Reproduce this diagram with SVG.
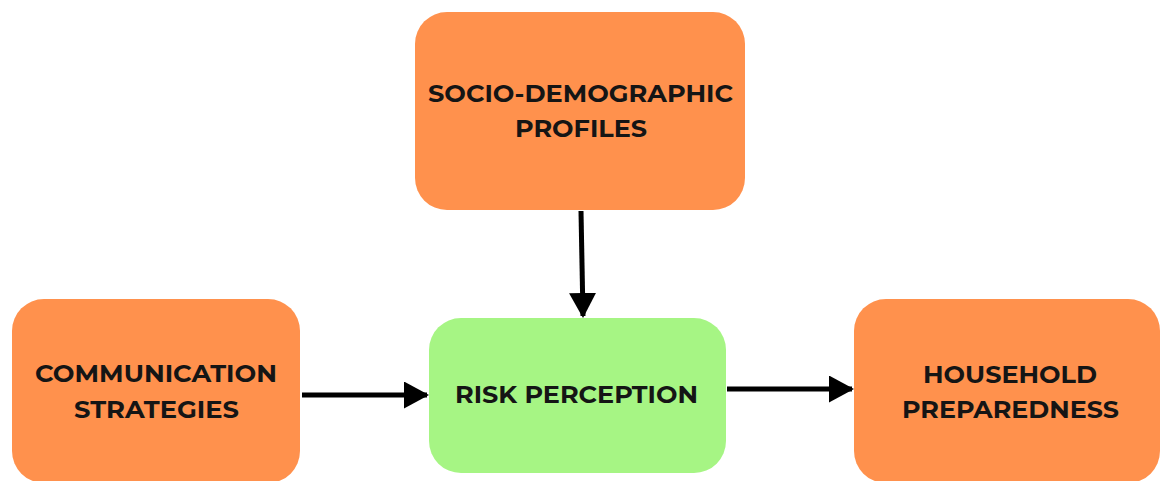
<svg xmlns="http://www.w3.org/2000/svg" width="1160" height="481" viewBox="0 0 1160 481">
<style>
.orange{fill:#FF914D}
.green{fill:#A6F584}
.lbl{font-family:"Montserrat","Inter","Liberation Sans",sans-serif;font-weight:700;font-size:23px;fill:#151515;text-anchor:middle}
.conn{stroke:#000;stroke-width:5;fill:none}
</style>
<defs>
<marker id="ah" markerWidth="5" markerHeight="5.4" refX="4.6" refY="2.7" orient="auto" markerUnits="strokeWidth">
<path d="M0,0 L5,2.7 L0,5.4 Z" fill="#000"/>
</marker>
</defs>
<rect width="1160" height="481" fill="#fff"/>
<g id="node-socio">
<rect class="orange" x="415" y="12" width="330" height="198" rx="32"/>
<text class="lbl" x="580.5" y="102" textLength="305" lengthAdjust="spacingAndGlyphs">SOCIO-DEMOGRAPHIC</text>
<text class="lbl" x="581" y="137" textLength="132" lengthAdjust="spacingAndGlyphs">PROFILES</text>
</g>
<g id="node-comm">
<rect class="orange" x="12" y="299" width="288" height="184" rx="32"/>
<text class="lbl" x="156" y="382" textLength="242" lengthAdjust="spacingAndGlyphs">COMMUNICATION</text>
<text class="lbl" x="156.5" y="418" textLength="165" lengthAdjust="spacingAndGlyphs">STRATEGIES</text>
</g>
<g id="node-risk">
<rect class="green" x="429" y="318" width="297" height="155" rx="32"/>
<text class="lbl" x="576.5" y="403" textLength="243" lengthAdjust="spacingAndGlyphs">RISK PERCEPTION</text>
</g>
<g id="node-house">
<rect class="orange" x="854" y="299" width="306" height="184" rx="32"/>
<text class="lbl" x="1010" y="383" textLength="174" lengthAdjust="spacingAndGlyphs">HOUSEHOLD</text>
<text class="lbl" x="1010.5" y="418" textLength="217" lengthAdjust="spacingAndGlyphs">PREPAREDNESS</text>
</g>
<g id="connectors">
<line class="conn" x1="581" y1="211" x2="583" y2="316" marker-end="url(#ah)"/>
<line class="conn" x1="302" y1="395" x2="427" y2="395" marker-end="url(#ah)"/>
<line class="conn" x1="727" y1="389" x2="852" y2="389" marker-end="url(#ah)"/>
</g>
</svg>
